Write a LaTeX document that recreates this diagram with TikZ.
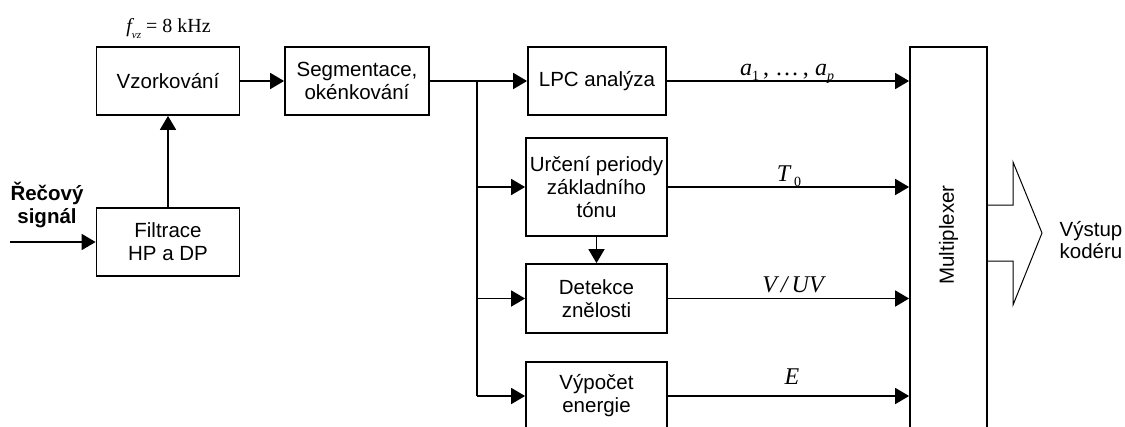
\documentclass[tikz,border=0pt]{standalone}
\usepackage{fontspec}
\setmainfont{Liberation Sans}
\newfontfamily\tms{Liberation Serif}
\usetikzlibrary{arrows.meta}
\newcommand{\lsub}[1]{\raisebox{-5pt}{\fontsize{14}{14}\selectfont #1}}
\newcommand{\ssub}[1]{\raisebox{-6pt}{\fontsize{11}{11}\selectfont #1}}
\begin{document}
\begin{tikzpicture}[x=1pt,y=-1pt,
  box/.style={draw,line width=1.8pt,align=center,inner sep=0pt,font=\fontsize{20.5}{23}\selectfont},
  conn/.style={line width=1.8pt,-{Triangle[length=14pt,width=16pt]}},
  wire/.style={line width=1.8pt},
  sig/.style={anchor=base,inner sep=0pt,font=\tms\fontsize{24}{24}\selectfont},
  lbl/.style={inner sep=0pt,align=center,font=\fontsize{20.5}{22}\selectfont}]
\useasboundingbox (0,0) rectangle (1125,426);
\clip (0,0) rectangle (1125,426);
% blocks
\node[box,minimum width=143pt,minimum height=68pt] (vz) at (168,81) {Vzorkování};
\node[box,minimum width=144pt,minimum height=68pt] (seg) at (357,81) {Segmentace,\\okénkování};
\node[box,minimum width=143pt,minimum height=68pt] (fil) at (168,242) {Filtrace\\HP a DP};
\node[box,minimum width=138pt,minimum height=68pt] (lpc) at (597,81) {LPC analýza};
\node[box,minimum width=141pt,minimum height=98pt] (urc) at (596.5,187) {Určení periody\\základního\\tónu};
\node[box,minimum width=141pt,minimum height=69pt] (det) at (596.5,298.5) {Detekce\\znělosti};
\node[box,minimum width=141pt,minimum height=68pt] (vyp) at (596.5,396) {Výpočet\\energie};
\node[box,minimum width=77pt,minimum height=385pt] (mux) at (948.5,239.5) {};
\node[lbl,rotate=90] (muxt) at (948.5,235) {Multiplexer};
% texts
\node[sig,font=\tms\fontsize{20}{20}\selectfont] (fvz) at (168.5,32) {\itshape f\ssub{vz}\upshape\ = 8 kHz};
\node[lbl,font=\bfseries\fontsize{20.5}{23}\selectfont] (rs) at (47,204.5) {Řečový\\signál};
\node[lbl] (vys) at (1091,240) {Výstup\\kodéru};
% input
\coordinate (in) at (10,242);
\draw[conn] (in) -- (fil.west);
\draw[conn] (fil.north) -- (vz.south);
\draw[conn] (vz.east) -- (seg.east -| seg.west);
% branching
\coordinate (br1) at (477,81);
\coordinate (br4) at (477,396);
\draw[conn] (seg.east) -- (lpc.west);
\draw[wire] (br1) -- (br4);
\draw[conn] (br1 |- urc.west) -- (urc.west);
\draw[conn] (br1 |- det.west) -- (det.west);
\draw[conn] (br4) -- (vyp.west);
\draw[conn] (urc.south) -- (det.north);
% outputs
\draw[conn] (lpc.east) -- (lpc.east -| mux.west);
\draw[conn] (urc.east) -- (urc.east -| mux.west);
\draw[conn] (det.east) -- (det.east -| mux.west);
\draw[conn] (vyp.east) -- (vyp.east -| mux.west);
\node[sig] (la) at (787,75) {\itshape a\lsub{\upshape 1}\upshape\,, \dots\,, \itshape a\lsub{p}};
\node[sig] (lt) at (789,181) {\itshape T\,\lsub{\upshape 0}};
\node[sig] (lv) at (793,292) {\itshape V\,/\,UV};
\node[sig] (le) at (792,384) {\itshape E};
% hollow output arrow
\coordinate (h1) at (1013,205);
\coordinate (h2) at (1013,162);
\coordinate (h3) at (1042,233);
\coordinate (h4) at (1013,305);
\coordinate (h5) at (1013,261);
\draw[line width=1pt] (mux.east |- h1) -- (h1) -- (h2) -- (h3) -- (h4) -- (h5) -- (mux.east |- h5);
\end{tikzpicture}
\end{document}
